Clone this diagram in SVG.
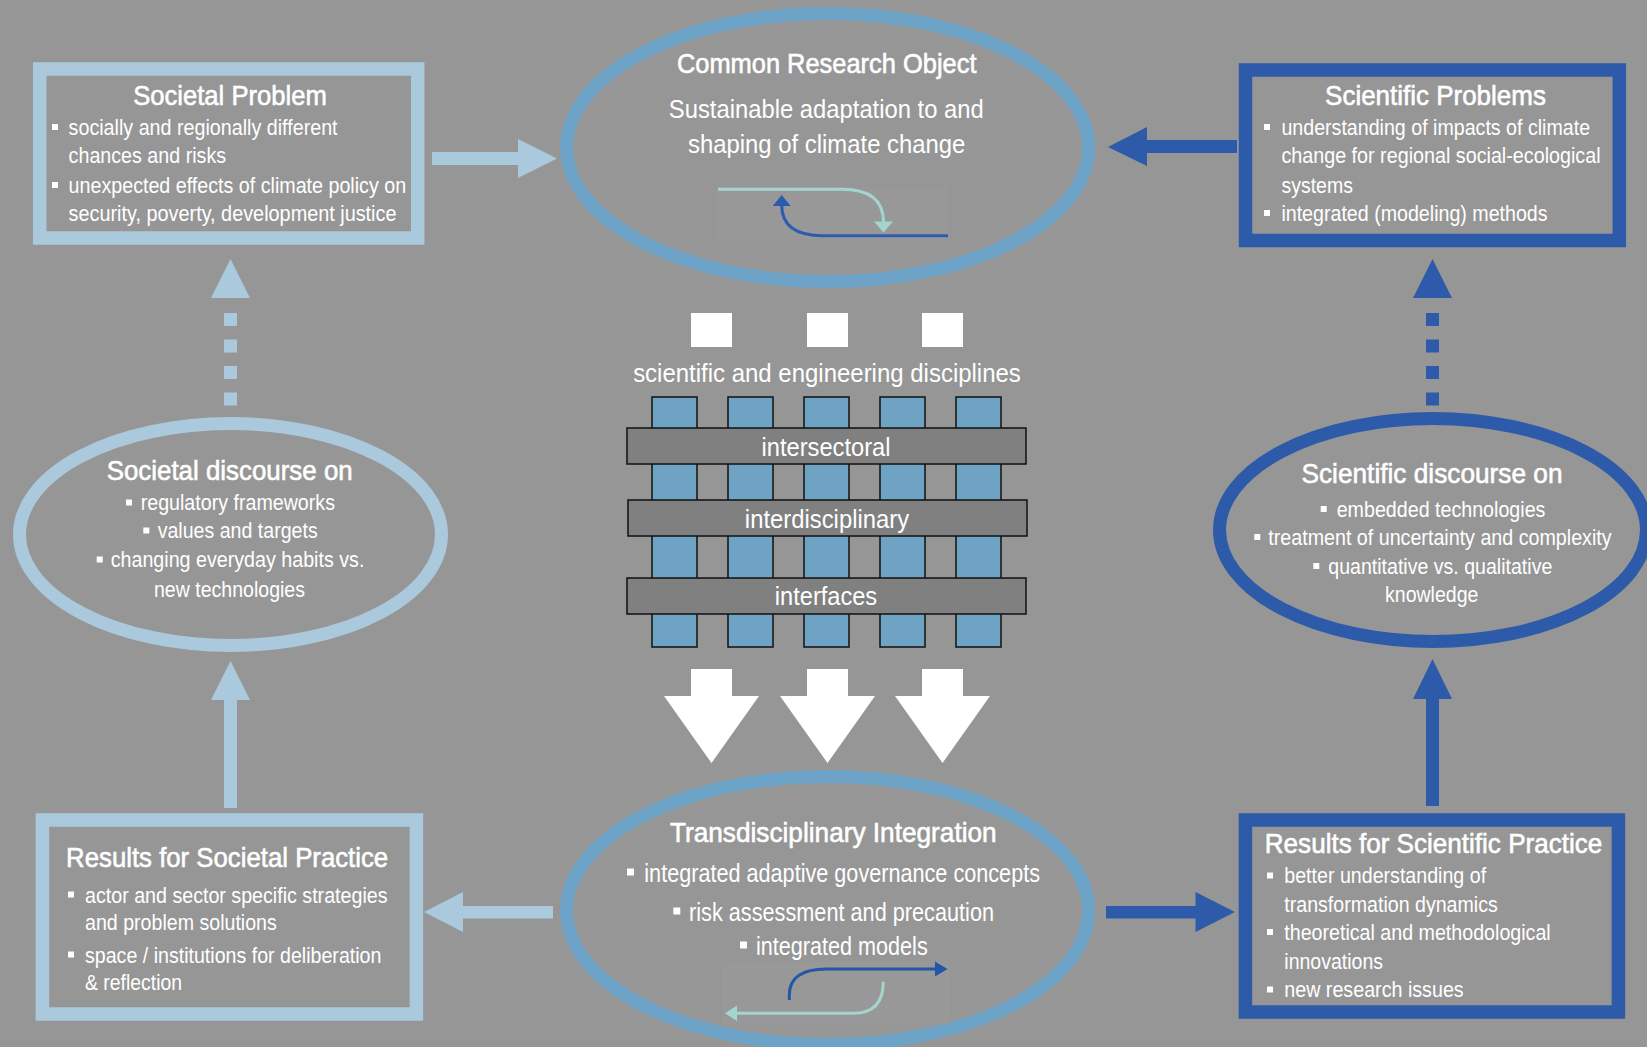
<svg xmlns="http://www.w3.org/2000/svg" width="1647" height="1047" viewBox="0 0 1647 1047">
  <style>
    .t { font-family: "Liberation Sans Narrow", "Liberation Sans", Arial, sans-serif; fill: #ffffff; }
    .h { font-size: 28px; stroke: #ffffff; stroke-width: 0.6px; }
    .b { font-size: 22px; }
    .m { font-size: 26px; }
    .c { text-anchor: middle; }
    .light { stroke: #abc9dc; fill: none; }
    .mid { stroke: #6ca3c6; fill: none; }
    .dark { stroke: #2d5ba9; fill: none; }
    .fl { fill: #abc9dc; }
    .fd { fill: #2d5ba9; }
    .col { fill: #6fa3c4; stroke: #111; stroke-width: 1.5; }
    .bar { fill: #808080; stroke: #111; stroke-width: 1.5; }
    .bul { fill: #ffffff; }
    .pad { fill: #989898; }
  </style>
  <defs>
    <rect id="blt" width="6" height="6" class="bul"/>
    <rect id="bltL" width="7" height="7" class="bul"/>
  </defs>

  <rect width="1647" height="1047" fill="#969696"/>

  <!-- connectors -->
  <g id="connectors">
    <!-- Societal Problem -> Common Research Object -->
    <polygon class="fl" points="432,152 518,152 518,139 557,158.5 518,178 518,165 432,165"/>
    <!-- Scientific Problems -> Common Research Object -->
    <polygon class="fd" points="1237,140 1147,140 1147,127 1108,147 1147,166 1147,153 1237,153"/>
    <!-- Societal discourse -> Societal Problem (dashed) -->
    <g class="fl">
      <polygon points="230.5,259 211,298 250,298"/>
      <rect x="224" y="313" width="13" height="13"/>
      <rect x="224" y="339.5" width="13" height="13"/>
      <rect x="224" y="366" width="13" height="13"/>
      <rect x="224" y="392.5" width="13" height="13"/>
    </g>
    <!-- Scientific discourse -> Scientific Problems (dashed) -->
    <g class="fd">
      <polygon points="1432.5,259 1413,298 1452,298"/>
      <rect x="1426" y="313" width="13" height="13"/>
      <rect x="1426" y="339.5" width="13" height="13"/>
      <rect x="1426" y="366" width="13" height="13"/>
      <rect x="1426" y="392.5" width="13" height="13"/>
    </g>
    <!-- Results for Societal Practice -> Societal discourse -->
    <polygon class="fl" points="224,808 224,700 211,700 230.5,661 250,700 237,700 237,808"/>
    <!-- Results for Scientific Practice -> Scientific discourse -->
    <polygon class="fd" points="1426,806 1426,699 1413,699 1432.5,659 1452,699 1439,699 1439,806"/>
    <!-- Transdisciplinary Integration -> Results for Societal Practice -->
    <polygon class="fl" points="553,906 463,906 463,892 424,912 463,932 463,918.5 553,918.5"/>
    <!-- Transdisciplinary Integration -> Results for Scientific Practice -->
    <polygon class="fd" points="1106,906 1195.5,906 1195.5,892 1235,912 1195.5,932 1195.5,918.5 1106,918.5"/>
  </g>

  <!-- Societal Problem -->
  <g id="societal-problem">
    <rect class="light" x="39.7" y="69" width="378" height="169" stroke-width="13.5"/>
    <text class="t h c" x="230" y="105" textLength="193.6" lengthAdjust="spacingAndGlyphs">Societal Problem</text>
    <use href="#blt" x="52" y="124"/>
    <text class="t b" x="68.6" y="135" textLength="269" lengthAdjust="spacingAndGlyphs">socially and regionally different</text>
    <text class="t b" x="68.6" y="163" textLength="157.5" lengthAdjust="spacingAndGlyphs">chances and risks</text>
    <use href="#blt" x="52" y="182"/>
    <text class="t b" x="68.6" y="193" textLength="337.5" lengthAdjust="spacingAndGlyphs">unexpected effects of climate policy on</text>
    <text class="t b" x="68.6" y="221" textLength="327.9" lengthAdjust="spacingAndGlyphs">security, poverty, development justice</text>
  </g>

  <!-- Common Research Object -->
  <g id="common-research-object">
    <ellipse class="mid" cx="827.6" cy="147.5" rx="261" ry="134" stroke-width="13"/>
    <text class="t h c" x="826.7" y="73" textLength="299.6" lengthAdjust="spacingAndGlyphs">Common Research Object</text>
    <text class="t m c" x="826.3" y="118" textLength="315" lengthAdjust="spacingAndGlyphs">Sustainable adaptation to and</text>
    <text class="t m c" x="826.7" y="153" textLength="277.4" lengthAdjust="spacingAndGlyphs">shaping of climate change</text>
    <rect class="pad" x="717" y="187" width="232" height="52"/>
    <path d="M718,189.3 H842 Q883.5,189.3 883.5,222" fill="none" stroke="#a3d5cf" stroke-width="3"/>
    <polygon points="883.5,232.5 874,221.5 893,221.5" fill="#a3d5cf"/>
    <path d="M948,235.7 H823 Q781.7,235.7 781.7,205" fill="none" stroke="#2b5cb0" stroke-width="3"/>
    <polygon points="781.7,195 772.7,206 790.7,206" fill="#2b5cb0"/>
  </g>

  <!-- Scientific Problems -->
  <g id="scientific-problems">
    <rect class="dark" x="1245.5" y="70" width="373.8" height="170.5" stroke-width="13.5"/>
    <text class="t h c" x="1435.5" y="105" textLength="220.8" lengthAdjust="spacingAndGlyphs">Scientific Problems</text>
    <use href="#blt" x="1264" y="124"/>
    <text class="t b" x="1281.4" y="135" textLength="308.7" lengthAdjust="spacingAndGlyphs">understanding of impacts of climate</text>
    <text class="t b" x="1281.4" y="163" textLength="319.2" lengthAdjust="spacingAndGlyphs">change for regional social-ecological</text>
    <text class="t b" x="1281.4" y="193" textLength="71.5" lengthAdjust="spacingAndGlyphs">systems</text>
    <use href="#blt" x="1264" y="210"/>
    <text class="t b" x="1281.4" y="221" textLength="266.2" lengthAdjust="spacingAndGlyphs">integrated (modeling) methods</text>
  </g>

  <!-- Disciplines weave -->
  <g id="disciplines">
    <rect x="691" y="313" width="41" height="34" fill="#fff"/>
    <rect x="807" y="313" width="41" height="34" fill="#fff"/>
    <rect x="922" y="313" width="41" height="34" fill="#fff"/>
    <text class="t c" x="827" y="382" font-size="25" textLength="387.7" lengthAdjust="spacingAndGlyphs">scientific and engineering disciplines</text>
    <rect class="col" x="652" y="397" width="45" height="250"/>
    <rect class="col" x="728" y="397" width="45" height="250"/>
    <rect class="col" x="804" y="397" width="45" height="250"/>
    <rect class="col" x="880" y="397" width="45" height="250"/>
    <rect class="col" x="956" y="397" width="45" height="250"/>
    <rect class="bar" x="627" y="428" width="399" height="36"/>
    <text class="t m c" x="826" y="456" textLength="129" lengthAdjust="spacingAndGlyphs">intersectoral</text>
    <rect class="bar" x="628" y="500" width="399" height="36"/>
    <text class="t m c" x="827" y="528" textLength="164.3" lengthAdjust="spacingAndGlyphs">interdisciplinary</text>
    <rect class="bar" x="627" y="578" width="399" height="36"/>
    <text class="t m c" x="826" y="605" textLength="102.3" lengthAdjust="spacingAndGlyphs">interfaces</text>
    <polygon fill="#fff" points="691,669 732,669 732,696 759,696 711.5,763 664,696 691,696"/>
    <polygon fill="#fff" points="807,669 848,669 848,696 875,696 827.5,763 780,696 807,696"/>
    <polygon fill="#fff" points="922,669 963,669 963,696 990,696 942.5,763 895,696 922,696"/>
  </g>

  <!-- Societal discourse -->
  <g id="societal-discourse">
    <ellipse class="light" cx="230.5" cy="534.5" rx="211" ry="111" stroke-width="13"/>
    <text class="t h c" x="229.7" y="480" textLength="246" lengthAdjust="spacingAndGlyphs">Societal discourse on</text>
    <use href="#blt" x="126" y="499.5"/>
    <text class="t b" x="140.7" y="510" textLength="194.3" lengthAdjust="spacingAndGlyphs">regulatory frameworks</text>
    <use href="#blt" x="143.3" y="527.5"/>
    <text class="t b" x="157.7" y="538" textLength="160" lengthAdjust="spacingAndGlyphs">values and targets</text>
    <use href="#blt" x="96.7" y="556.5"/>
    <text class="t b" x="110.7" y="567" textLength="253.7" lengthAdjust="spacingAndGlyphs">changing everyday habits vs.</text>
    <text class="t b c" x="229.5" y="597" textLength="151" lengthAdjust="spacingAndGlyphs">new technologies</text>
  </g>

  <!-- Scientific discourse -->
  <g id="scientific-discourse">
    <ellipse class="dark" cx="1433" cy="530" rx="213.5" ry="111.5" stroke-width="13"/>
    <text class="t h c" x="1432" y="483" textLength="261" lengthAdjust="spacingAndGlyphs">Scientific discourse on</text>
    <use href="#blt" x="1320.7" y="506"/>
    <text class="t b" x="1336.7" y="517" textLength="208.7" lengthAdjust="spacingAndGlyphs">embedded technologies</text>
    <use href="#blt" x="1254.3" y="534"/>
    <text class="t b" x="1268.3" y="545" textLength="343.3" lengthAdjust="spacingAndGlyphs">treatment of uncertainty and complexity</text>
    <use href="#blt" x="1313.3" y="563"/>
    <text class="t b" x="1328.3" y="574" textLength="224" lengthAdjust="spacingAndGlyphs">quantitative vs. qualitative</text>
    <text class="t b c" x="1431.7" y="602" textLength="93.3" lengthAdjust="spacingAndGlyphs">knowledge</text>
  </g>

  <!-- Results for Societal Practice -->
  <g id="results-societal">
    <rect class="light" x="42.4" y="820" width="374" height="194" stroke-width="13.5"/>
    <text class="t h" x="66.1" y="866.7" textLength="322.1" lengthAdjust="spacingAndGlyphs">Results for Societal Practice</text>
    <use href="#blt" x="68" y="891.5"/>
    <text class="t b" x="85" y="903" textLength="302.5" lengthAdjust="spacingAndGlyphs">actor and sector specific strategies</text>
    <text class="t b" x="85" y="930" textLength="191.8" lengthAdjust="spacingAndGlyphs">and problem solutions</text>
    <use href="#blt" x="68" y="951.5"/>
    <text class="t b" x="85" y="962.7" textLength="296.4" lengthAdjust="spacingAndGlyphs">space / institutions for deliberation</text>
    <text class="t b" x="85" y="990" textLength="97.1" lengthAdjust="spacingAndGlyphs">&amp; reflection</text>
  </g>

  <!-- Transdisciplinary Integration -->
  <g id="transdisciplinary-integration">
    <ellipse class="mid" cx="827.6" cy="910.5" rx="261" ry="134" stroke-width="13"/>
    <text class="t h c" x="833.3" y="841.7" textLength="326.7" lengthAdjust="spacingAndGlyphs">Transdisciplinary Integration</text>
    <use href="#bltL" x="627" y="868.5"/>
    <text class="t m" x="644.3" y="881.7" textLength="395.7" lengthAdjust="spacingAndGlyphs">integrated adaptive governance concepts</text>
    <use href="#bltL" x="673.3" y="907.5"/>
    <text class="t m" x="689" y="920.7" textLength="305" lengthAdjust="spacingAndGlyphs">risk assessment and precaution</text>
    <use href="#bltL" x="740" y="941.5"/>
    <rect class="pad" x="722" y="962" width="228" height="62"/>
    <text class="t m" x="756" y="955" textLength="171.7" lengthAdjust="spacingAndGlyphs">integrated models</text>
    <path d="M789.3,1000 V995 Q789.3,969 826.7,969 H936" fill="none" stroke="#2456a8" stroke-width="3"/>
    <polygon points="947.5,969 935,961.5 935,976.5" fill="#2456a8"/>
    <path d="M883.3,981.7 Q883.3,1013.3 853,1013.3 H736" fill="none" stroke="#a3d5cf" stroke-width="3"/>
    <polygon points="725,1013.3 737,1005.5 737,1021" fill="#a3d5cf"/>
  </g>

  <!-- Results for Scientific Practice -->
  <g id="results-scientific">
    <rect class="dark" x="1245.4" y="820" width="373" height="192" stroke-width="13.5"/>
    <text class="t h" x="1264.8" y="853.3" textLength="337.5" lengthAdjust="spacingAndGlyphs">Results for Scientific Practice</text>
    <use href="#blt" x="1267" y="872.5"/>
    <text class="t b" x="1284.3" y="883.3" textLength="201.8" lengthAdjust="spacingAndGlyphs">better understanding of</text>
    <text class="t b" x="1284.3" y="911.7" textLength="213.5" lengthAdjust="spacingAndGlyphs">transformation dynamics</text>
    <use href="#blt" x="1267" y="929"/>
    <text class="t b" x="1284.3" y="940" textLength="266.4" lengthAdjust="spacingAndGlyphs">theoretical and methodological</text>
    <text class="t b" x="1284.3" y="969.3" textLength="98.8" lengthAdjust="spacingAndGlyphs">innovations</text>
    <use href="#blt" x="1267" y="986.5"/>
    <text class="t b" x="1284.3" y="997.3" textLength="179.4" lengthAdjust="spacingAndGlyphs">new research issues</text>
  </g>
</svg>
